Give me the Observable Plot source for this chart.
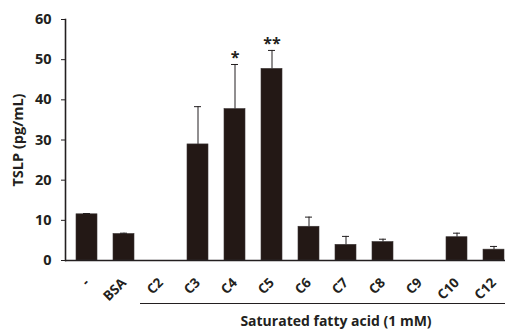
<!DOCTYPE html>
<html>
<head>
<meta charset="utf-8">
<script src="https://cdn.jsdelivr.net/npm/d3@7"></script>
<script src="https://cdn.jsdelivr.net/npm/@observablehq/plot@0.6"></script>
<style>
  html, body { margin: 0; padding: 0; background: #fff; }
  #wrap { width: 508px; height: 331px; position: relative; overflow: hidden; font-family: "Open Sans", sans-serif; font-weight: 700; color: #231f20; }
  #chart svg { display: block; }
  #bracket { position: absolute; left: 140px; width: 365px; top: 303px; border-top: 1.6px solid #231f20; }
  #xlabel { position: absolute; left: 140px; width: 392px; top: 312px; text-align: center; font-size: 14px; line-height: 18px; }
</style>
</head>
<body>
<div id="wrap">
  <div id="chart"></div>
  <div id="bracket"></div>
  <div id="xlabel">Saturated fatty acid (1 mM)</div>
</div>
<script>
const categories = ["-", "BSA", "C2", "C3", "C4", "C5", "C6", "C7", "C8", "C9", "C10", "C12"];
const means      = [11.5, 6.6, 0, 28.9, 37.7, 47.7, 8.4, 3.9, 4.6, 0, 5.8, 2.7];
const errors     = [0.2, 0.2, 0, 9.4, 11.1, 4.6, 2.4, 2.1, 0.7, 0, 1.0, 0.8];
const marks      = ["", "", "", "", "*", "**", "", "", "", "", "", ""];
const yTicks     = [0, 10, 20, 30, 40, 50, 60];
const yLabel     = "TSLP (pg/mL)";

const data = categories.map((c, i) => ({cat: c, mean: means[i], err: errors[i], top: means[i] + errors[i], sig: marks[i]}));
const withErr = data.filter(d => d.err > 0);
const withSig = data.filter(d => d.sig);

const ink = "#231f20";

const chart = Plot.plot({
  width: 508,
  height: 331,
  marginTop: 19,
  marginBottom: 71,
  marginLeft: 65,
  marginRight: 3,
  style: {fontFamily: "'Open Sans', sans-serif", fontWeight: 700, fontSize: "13px", color: ink, background: "#fff"},
  x: {domain: categories, range: [75, 505], paddingInner: 0.43, paddingOuter: 0, label: null, axis: null},
  y: {domain: [0, 60], label: null, axis: null},
  marks: [
    Plot.barY(data, {x: "cat", y: "mean", fill: "#231815", stroke: "#3a3434", strokeWidth: 0.6}),
    Plot.ruleX(withErr, {x: "cat", y1: "mean", y2: "top", stroke: ink, strokeWidth: 1}),
    Plot.tickY(withErr, {x: "cat", y: "top", stroke: ink, strokeWidth: 1, insetLeft: 7, insetRight: 7}),
    Plot.text(withSig, {x: "cat", y: "top", text: "sig", dy: -1, lineAnchor: "bottom", fontSize: 16, fill: ink}),
    Plot.ruleY([0], {stroke: ink, strokeWidth: 1.6}),
    Plot.frame({anchor: "left", stroke: ink, strokeWidth: 1.6}),
    Plot.axisY({ticks: yTicks, tickSize: 4, tickPadding: 10, label: yLabel, labelAnchor: "center", labelArrow: "none", labelOffset: 53, fontSize: 14.5, stroke: ink, fill: ink}),
    Plot.axisX({tickRotate: -45, tickSize: 0, tickPadding: 20, label: null, fontSize: 13.5, fill: ink})
  ]
});
document.getElementById("chart").appendChild(chart);
</script>
</body>
</html>
